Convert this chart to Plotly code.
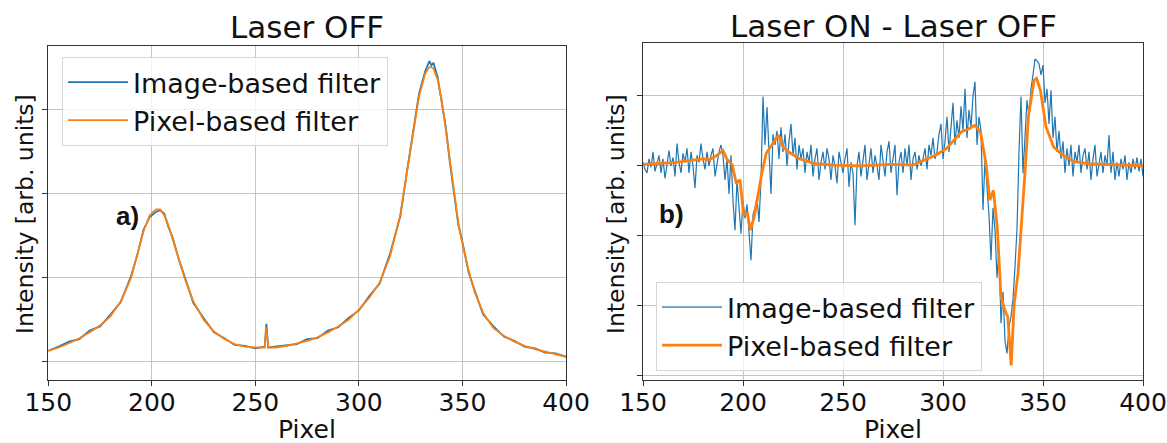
import plotly.graph_objects as go

# ---------------- data ----------------
# Panel a) Laser OFF
off_x = [150, 155, 160, 165, 170, 175, 180, 185, 190, 193, 196, 199, 202, 204, 206, 208, 210,
         213, 216, 220, 225, 230, 235, 240, 245, 250, 254.5, 255.3, 256.2, 260, 265, 270, 275,
         280, 285, 290, 295, 300, 305, 310, 315, 320, 323, 326, 329, 332, 334, 335, 336, 338,
         340, 342, 344, 346, 348, 350, 353, 356, 360, 365, 370, 375, 380, 385, 390, 395, 400]
off_pixel = [0.13, 0.17, 0.22, 0.28, 0.35, 0.43, 0.54, 0.72, 1.00, 1.29, 1.55, 1.74, 1.81, 1.81,
             1.74, 1.62, 1.46, 1.24, 0.98, 0.72, 0.50, 0.36, 0.27, 0.21, 0.18, 0.17, 0.17, 0.41,
             0.17, 0.17, 0.19, 0.22, 0.25, 0.29, 0.35, 0.42, 0.50, 0.62, 0.76, 0.94, 1.25, 1.75,
             2.20, 2.70, 3.15, 3.42, 3.50, 3.50, 3.48, 3.35, 3.10, 2.75, 2.38, 1.98, 1.65, 1.40,
             1.08, 0.82, 0.58, 0.40, 0.31, 0.24, 0.19, 0.15, 0.12, 0.09, 0.06]
off_image = [0.13, 0.18, 0.24, 0.27, 0.37, 0.42, 0.56, 0.71, 1.02, 1.27, 1.57, 1.72, 1.78, 1.80,
             1.76, 1.60, 1.48, 1.22, 1.00, 0.70, 0.52, 0.35, 0.28, 0.20, 0.19, 0.16, 0.18, 0.45,
             0.17, 0.18, 0.20, 0.21, 0.27, 0.28, 0.37, 0.41, 0.52, 0.61, 0.78, 0.93, 1.28, 1.73,
             2.23, 2.68, 3.18, 3.45, 3.57, 3.52, 3.55, 3.38, 3.08, 2.78, 2.35, 2.00, 1.63, 1.42,
             1.06, 0.84, 0.56, 0.42, 0.30, 0.25, 0.18, 0.16, 0.11, 0.10, 0.06]

# Panel b) Laser ON - Laser OFF
diff_pixel_x = [150, 155, 166.5, 174, 179.7, 183.4, 187, 190, 191.9, 194.7, 196.6, 198.5, 200.3,
                202.2, 203.7, 205.6, 207.5, 209.4, 211.6, 214.4, 217.8, 220, 223.8, 228.5, 236,
                245.4, 258.6, 273.6, 284.9, 290.5, 296.1, 301.8, 305.5, 309.3, 313, 315.9, 318.7,
                321.5, 323.4, 325.2, 327.1, 329, 330.9, 332.4, 334.1, 335.6, 337.5, 339, 341.2,
                342.7, 344, 345.5, 346.8, 348.7, 351.5, 355.3, 360, 365.6, 373.1, 384.4, 400]
diff_pixel = [0.02, 0.03, 0.05, 0.08, 0.10, 0.09, 0.15, 0.22, 0.10, 0.01, -0.25, -0.20, -0.70,
              -0.68, -0.92, -0.73, -0.40, -0.11, 0.18, 0.30, 0.44, 0.27, 0.18, 0.10, 0.03, 0.01,
              0.00, 0.02, 0.01, 0.08, 0.15, 0.25, 0.37, 0.49, 0.53, 0.58, 0.49, 0.03, -0.49,
              -0.35, -0.87, -1.87, -2.06, -2.16, -2.85, -1.97, -1.54, -0.97, -0.01, 0.70, 0.94,
              1.22, 1.25, 1.08, 0.56, 0.27, 0.15, 0.06, 0.03, 0.02, 0.00]
diff_image_x = list(range(150, 401))
diff_image = [
    0.05, -0.05, -0.10, 0.10, -0.02, 0.20, -0.08, 0.05, 0.15, -0.10,
    0.10, -0.18, 0.05, 0.22, 0.00, 0.12, -0.15, 0.32, 0.05, -0.10,
    0.18, 0.05, 0.25, -0.10, 0.20, 0.00, -0.32, 0.15, 0.05, 0.32,
    0.10, -0.05, 0.20, 0.00, 0.15, 0.25, -0.15, 0.05, 0.20, 0.30,
    0.15, -0.20, 0.10, -0.40, 0.15, -0.50, -0.92, -0.20, -0.60, -0.97,
    -0.50, -0.75, -0.55, -0.90, -1.35, -0.70, -0.60, -0.45, -0.80, -0.20,
    0.99, 0.30, 0.84, 0.20, -0.40, 0.45, 0.30, 0.50, 0.10, 0.55,
    0.20, 0.45, 0.00, 0.35, 0.60, 0.15, 0.40, -0.05, 0.30, 0.10,
    0.25, -0.10, 0.20, 0.05, 0.30, -0.15, 0.10, 0.25, -0.20, 0.05,
    0.20, -0.05, 0.25, 0.10, -0.20, 0.15, 0.00, -0.25, 0.20, 0.05,
    -0.10, 0.10, 0.25, -0.30, 0.05, -0.10, -0.85, 0.00, 0.20, -0.15,
    0.10, 0.30, -0.20, 0.05, 0.25, -0.10, 0.15, 0.00, -0.20, 0.30,
    0.05, -0.15, 0.20, 0.35, -0.10, 0.10, 0.30, -0.42, 0.05, 0.20,
    -0.10, 0.25, 0.00, 0.30, -0.20, 0.10, 0.20, -0.05, 0.15, 0.00,
    0.10, 0.25, -0.05, 0.30, 0.15, 0.40, 0.10, 0.20, 0.45, 0.60,
    0.10, 0.35, 0.70, 0.20, 0.50, 0.90, 0.30, 0.65, 0.40, 0.85,
    0.50, 1.10, 0.40, 0.80, 0.55, 1.00, 1.20, 0.30, 0.70, 0.50,
    -0.63, 0.10, -0.30, -0.70, -1.35, -0.60, -0.92, -1.60, -1.20, -2.25,
    -1.80, -2.50, -2.68, -2.30, -2.16, -1.90, -1.44, -0.90, 0.20, 0.99,
    -0.11, 0.50, 0.94, 0.70, 1.10, 1.30, 1.53, 1.50, 1.46, 1.30,
    1.44, 0.90, 1.10, 0.60, 1.08, 0.40, 0.70, 0.20, 0.50, 0.10,
    0.35, -0.10, 0.25, 0.00, 0.30, -0.15, 0.20, 0.05, 0.30, -0.10,
    0.15, 0.25, -0.05, 0.20, -0.20, 0.10, 0.30, -0.15, 0.05, 0.20,
    -0.10, 0.15, 0.00, 0.44, -0.10, 0.20, -0.20, 0.05, -0.15, 0.10,
    -0.05, 0.15, -0.20, 0.05, -0.10, 0.10, -0.05, 0.12, -0.08, 0.10,
    -0.15]

x_ticks = [150, 200, 250, 300, 350, 400]
off_yticks = [0, 1, 2, 3]
diff_yticks = [-3, -2, -1, 0, 1]

BLUE = "#1f77b4"
ORANGE = "#ff7f0e"
FONT = "DejaVu Sans"
W, H = 1167, 443

fig = go.Figure()
fig.add_trace(go.Scatter(x=off_x, y=off_image, mode="lines", name="Image-based filter",
                         line=dict(color=BLUE, width=1.8), xaxis="x", yaxis="y", legend="legend"))
fig.add_trace(go.Scatter(x=off_x, y=off_pixel, mode="lines", name="Pixel-based filter",
                         line=dict(color=ORANGE, width=1.8), xaxis="x", yaxis="y", legend="legend"))
fig.add_trace(go.Scatter(x=diff_image_x, y=diff_image, mode="lines", name="Image-based filter",
                         line=dict(color=BLUE, width=1.2), xaxis="x2", yaxis="y2", legend="legend2"))
fig.add_trace(go.Scatter(x=diff_pixel_x, y=diff_pixel, mode="lines", name="Pixel-based filter",
                         line=dict(color=ORANGE, width=2.8), xaxis="x2", yaxis="y2", legend="legend2"))

def xax(dom, anchor):
    return dict(domain=dom, range=[150, 400], tickvals=x_ticks, ticks="outside", ticklen=5,
                tickcolor="#333", tickwidth=1.2, showline=True, mirror=True, linecolor="#333",
                linewidth=1.3, showgrid=True, gridcolor="#c4c4c4", gridwidth=1, zeroline=False,
                automargin=False, ticklabelstandoff=-5,
                tickfont=dict(family=FONT, size=25, color="#111"), anchor=anchor)

def yax(dom, rng, tv, anchor):
    return dict(domain=dom, range=rng, tickvals=tv, showticklabels=False, ticks="outside",
                ticklen=5, tickcolor="#333", tickwidth=1.2, showline=True, mirror=True,
                linecolor="#333", linewidth=1.3, showgrid=True, gridcolor="#c4c4c4", gridwidth=1,
                zeroline=False, automargin=False, anchor=anchor)

legend_common = dict(xanchor="left", yanchor="top", bgcolor="rgba(255,255,255,0.8)",
                     bordercolor="#d6d6d6", borderwidth=1,
                     font=dict(family=FONT, size=27, color="#111"), itemwidth=60)

fig.update_layout(
    width=W, height=H, margin=dict(l=0, r=0, t=0, b=0, autoexpand=False),
    paper_bgcolor="white", plot_bgcolor="white",
    xaxis=xax([48.3 / W, 566 / W], "y"),
    yaxis=yax([1 - 380 / H, 1 - 46 / H], [-0.216, 3.75], off_yticks, "x"),
    xaxis2=xax([643 / W, 1143 / W], "y2"),
    yaxis2=yax([1 - 380 / H, 1 - 42.7 / H], [-3.06, 1.76], diff_yticks, "x2"),
    legend=dict(x=62 / W, y=1 - 57 / H, **legend_common),
    legend2=dict(x=656 / W, y=1 - 282 / H, **legend_common),
    showlegend=True,
)

annotations = []
for text, xc, yc, size in [("Laser OFF", 307, 27, 31), ("Laser ON - Laser OFF", 893, 25.5, 31)]:
    annotations.append(dict(text=text, x=xc / W, y=1 - yc / H, xref="paper", yref="paper",
                            xanchor="center", yanchor="middle", showarrow=False,
                            font=dict(family=FONT, size=size, color="#111")))
for xc in (307, 893):
    annotations.append(dict(text="Pixel", x=xc / W, y=-3 / H, xref="paper", yref="paper",
                            xanchor="center", yanchor="bottom", showarrow=False,
                            font=dict(family=FONT, size=25, color="#111")))
for xc in (25, 616):
    annotations.append(dict(text="Intensity [arb. units]", x=xc / W, y=1 - 214 / H,
                            xref="paper", yref="paper", xanchor="center", yanchor="middle",
                            showarrow=False, textangle=-90,
                            font=dict(family=FONT, size=23.5, color="#111")))
annotations.append(dict(text="<b>a)</b>", x=127 / W, y=1 - 216 / H, xref="paper", yref="paper",
                        xanchor="center", yanchor="middle", showarrow=False,
                        font=dict(family="Liberation Sans", size=26, color="#111")))
annotations.append(dict(text="<b>b)</b>", x=671 / W, y=1 - 214 / H, xref="paper", yref="paper",
                        xanchor="center", yanchor="middle", showarrow=False,
                        font=dict(family="Liberation Sans", size=26, color="#111")))
fig.update_layout(annotations=annotations)

fig.write_html("out.html")
